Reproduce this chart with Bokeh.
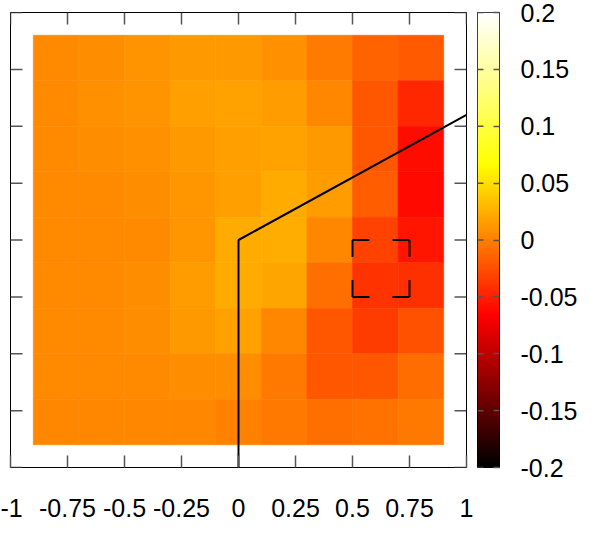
import numpy as np
from bokeh.plotting import figure
from bokeh.models import Range1d, FixedTicker, LinearColorMapper, ColumnDataSource
from bokeh.transform import transform
from bokeh.layouts import row
from bokeh.embed import file_html
from bokeh.resources import INLINE

# ---- data ----
x_centers = [-0.8, -0.6, -0.4, -0.2, 0.0, 0.2, 0.4, 0.6, 0.8]
y_centers = [0.8, 0.6, 0.4, 0.2, 0.0, -0.2, -0.4, -0.6, -0.8]
row_p08 = [0.0050, 0.0065, 0.0107, 0.0128, 0.0128, 0.0091, -0.0029, -0.0154, -0.0196]
row_p06 = [0.0055, 0.0081, 0.0102, 0.0170, 0.0186, 0.0154, 0.0039, -0.0207, -0.0458]
row_p04 = [0.0055, 0.0065, 0.0081, 0.0128, 0.0170, 0.0180, 0.0128, -0.0207, -0.0604]
row_p02 = [0.0050, 0.0050, 0.0065, 0.0118, 0.0170, 0.0222, 0.0144, -0.0186, -0.0625]
row_000 = [0.0055, 0.0055, 0.0055, 0.0118, 0.0233, 0.0248, 0.0039, -0.0327, -0.0562]
row_m02 = [0.0055, 0.0055, 0.0065, 0.0144, 0.0233, 0.0196, -0.0081, -0.0405, -0.0416]
row_m04 = [0.0055, 0.0055, 0.0065, 0.0128, 0.0180, 0.0039, -0.0207, -0.0353, -0.0248]
row_m06 = [0.0050, 0.0050, 0.0055, 0.0076, 0.0065, -0.0039, -0.0207, -0.0207, -0.0102]
row_m08 = [0.0044, 0.0044, 0.0044, 0.0034, 0.0013, -0.0039, -0.0081, -0.0065, -0.0039]
cell_size = 0.2

path_x = [0.0, 0.0, 1.0]
path_y = [-1.0, 0.0, 0.55]

box_x = [0.5, 0.75]
box_y = [-0.25, 0.0]

x_ticks = [-1, -0.75, -0.5, -0.25, 0, 0.25, 0.5, 0.75, 1]
x_tick_labels = ["-1", "-0.75", "-0.5", "-0.25", "0", "0.25", "0.5", "0.75", "1"]
y_ticks = [-1, -0.75, -0.5, -0.25, 0, 0.25, 0.5, 0.75, 1]
cb_ticks = [-0.2, -0.15, -0.1, -0.05, 0, 0.05, 0.1, 0.15, 0.2]
cb_tick_labels = ["-0.2", "-0.15", "-0.1", "-0.05", "0", "0.05", "0.1", "0.15", "0.2"]
cb_low, cb_high = -0.2, 0.2

# ---- palette (gnuplot rgbformulae 21,22,23 : black-red-yellow-white) ----
def _c(v):
    return int(round(255 * min(max(v, 0.0), 1.0)))

palette = []
for i in range(256):
    t = i / 255.0
    palette.append("#%02x%02x%02x" % (_c(3 * t), _c(3 * t - 1), _c(3 * t - 2)))
mapper = LinearColorMapper(palette=palette, low=cb_low, high=cb_high)

rows = [row_p08, row_p06, row_p04, row_p02, row_000, row_m02, row_m04, row_m06, row_m08]
xs, ys, vs = [], [], []
for yc, r in zip(y_centers, rows):
    for xc, v in zip(x_centers, r):
        xs.append(xc)
        ys.append(yc)
        vs.append(v)
src = ColumnDataSource(dict(x=xs, y=ys, v=vs))

FONT = "Liberation Sans"
FONT_SIZE = "25px"
TICK_COLOR = "#555555"
FRAME_W, FRAME_H = 456, 455
TICK_PX = 12
BORDER_L, BORDER_R, BORDER_T, BORDER_B = 10, 11, 12, 64
H = BORDER_T + FRAME_H + BORDER_B

# ---- main figure ----
p = figure(width=BORDER_L + FRAME_W + BORDER_R, height=H,
           x_range=Range1d(-1, 1), y_range=Range1d(-1, 1),
           output_backend="svg", toolbar_location=None, y_axis_location=None,
           min_border_left=BORDER_L, min_border_right=BORDER_R,
           min_border_top=BORDER_T, min_border_bottom=BORDER_B)
p.grid.visible = False
p.outline_line_color = "black"
p.outline_line_width = 1
p.background_fill_color = "white"

p.rect(x="x", y="y", width=cell_size, height=cell_size, source=src,
       fill_color=transform("v", mapper), line_color=transform("v", mapper), line_width=0.6)

# inward tick marks on the top, left and right edges
tx = TICK_PX * 2.0 / FRAME_W
ty = TICK_PX * 2.0 / FRAME_H
p.segment(x0=x_ticks, y0=[1] * len(x_ticks), x1=x_ticks, y1=[1 - ty] * len(x_ticks),
          line_color=TICK_COLOR, line_width=1.5)
p.segment(x0=[-1] * len(y_ticks), y0=y_ticks, x1=[-1 + tx] * len(y_ticks), y1=y_ticks,
          line_color=TICK_COLOR, line_width=1.5)
p.segment(x0=[1] * len(y_ticks), y0=y_ticks, x1=[1 - tx] * len(y_ticks), y1=y_ticks,
          line_color=TICK_COLOR, line_width=1.5)

p.line(path_x, path_y, line_color="black", line_width=2)

bx0, bx1 = box_x
by0, by1 = box_y
p.multi_line(xs=[[bx0, bx1], [bx1, bx1], [bx1, bx0], [bx0, bx0]],
             ys=[[by1, by1], [by1, by0], [by0, by0], [by0, by1]],
             line_color="black", line_width=2, line_dash="17 23")

ax = p.xaxis[0]
ax.ticker = FixedTicker(ticks=x_ticks)
ax.major_label_overrides = {t: l for t, l in zip(x_ticks, x_tick_labels)}
ax.major_tick_in = TICK_PX
ax.major_tick_out = 0
ax.minor_tick_line_color = None
ax.major_tick_line_color = TICK_COLOR
ax.major_tick_line_width = 1.5
ax.axis_line_color = None
ax.major_label_text_font = FONT
ax.major_label_text_font_size = FONT_SIZE
ax.major_label_text_color = "black"
ax.major_label_standoff = 31

# ---- colour bar figure ----
CB_W = 22
cb = figure(width=CB_W + 91, height=H, x_range=Range1d(0, 1), y_range=Range1d(cb_low, cb_high),
            output_backend="svg", toolbar_location=None, x_axis_location=None,
            y_axis_location="right",
            min_border_left=0, min_border_right=91,
            min_border_top=BORDER_T, min_border_bottom=BORDER_B)
cb.grid.visible = False
cb.outline_line_color = "black"
cb.outline_line_width = 1
grad = np.linspace(cb_low, cb_high, 256).reshape(256, 1)
cb.image(image=[grad], x=0, y=cb_low, dw=1, dh=cb_high - cb_low, color_mapper=mapper)

cb.segment(x0=[0] * len(cb_ticks), y0=cb_ticks, x1=[6.0 / CB_W] * len(cb_ticks), y1=cb_ticks,
           line_color=TICK_COLOR, line_width=1.5)

ra = cb.yaxis[0]
ra.ticker = FixedTicker(ticks=cb_ticks)
ra.major_label_overrides = {t: l for t, l in zip(cb_ticks, cb_tick_labels)}
ra.major_tick_in = 6
ra.major_tick_out = 0
ra.minor_tick_line_color = None
ra.major_tick_line_color = TICK_COLOR
ra.major_tick_line_width = 1.5
ra.axis_line_color = None
ra.major_label_text_font = FONT
ra.major_label_text_font_size = FONT_SIZE
ra.major_label_text_color = "black"
ra.major_label_standoff = 21

layout = row(p, cb)
open("out.html", "w").write(file_html(layout, INLINE))
